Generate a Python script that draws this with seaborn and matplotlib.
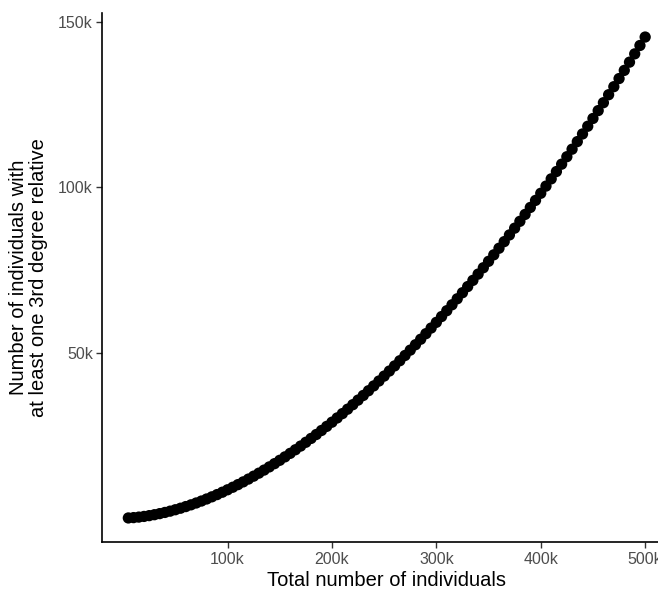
import matplotlib
matplotlib.use("Agg")
import matplotlib.pyplot as plt
import seaborn as sns
import pandas as pd

total_individuals = [
    5000, 10000, 15000, 20000, 25000, 30000, 35000, 40000, 45000, 50000,
    55000, 60000, 65000, 70000, 75000, 80000, 85000, 90000, 95000, 100000,
    105000, 110000, 115000, 120000, 125000, 130000, 135000, 140000, 145000, 150000,
    155000, 160000, 165000, 170000, 175000, 180000, 185000, 190000, 195000, 200000,
    205000, 210000, 215000, 220000, 225000, 230000, 235000, 240000, 245000, 250000,
    255000, 260000, 265000, 270000, 275000, 280000, 285000, 290000, 295000, 300000,
    305000, 310000, 315000, 320000, 325000, 330000, 335000, 340000, 345000, 350000,
    355000, 360000, 365000, 370000, 375000, 380000, 385000, 390000, 395000, 400000,
    405000, 410000, 415000, 420000, 425000, 430000, 435000, 440000, 445000, 450000,
    455000, 460000, 465000, 470000, 475000, 480000, 485000, 490000, 495000, 500000,
]

with_3rd_degree_relative = [
    44, 149, 304, 504, 747, 1029, 1350, 1707, 2101, 2528,
    2990, 3485, 4012, 4571, 5162, 5782, 6434, 7114, 7825, 8564,
    9332, 10128, 10952, 11804, 12683, 13590, 14523, 15483, 16470, 17482,
    18521, 19585, 20675, 21790, 22931, 24097, 25287, 26502, 27742, 29006,
    30294, 31607, 32943, 34304, 35688, 37095, 38525, 39980, 41457, 42959,
    44482, 46029, 47598, 49190, 50806, 52441, 54101, 55782, 57487, 59211,
    60960, 62730, 64520, 66335, 68169, 70027, 71904, 73803, 75724, 77665,
    79630, 81616, 83620, 85647, 87693, 89763, 91852, 93961, 96093, 98243,
    100414, 102608, 104820, 107051, 109304, 111579, 113873, 116186, 118518, 120872,
    123246, 125638, 128054, 130484, 132939, 135412, 137904, 140416, 142948, 145498,
]

x_ticks = [100000, 200000, 300000, 400000, 500000]
x_tick_labels = ["100k", "200k", "300k", "400k", "500k"]
y_ticks = [50000, 100000, 150000]
y_tick_labels = ["50k", "100k", "150k"]

df = pd.DataFrame({"total": total_individuals, "relatives": with_3rd_degree_relative})

sns.set_theme(style="white")
plt.rcParams["font.family"] = ["Liberation Sans", "DejaVu Sans"]

fig = plt.figure(figsize=(6.58, 5.92), dpi=100)
W, H = 658, 592
left_px, right_px, bottom_px, top_px = 102.5, 671, 542, 13
ax = fig.add_axes([left_px / W, (H - bottom_px) / H,
                   (right_px - left_px) / W, (bottom_px - top_px) / H])

sns.scatterplot(data=df, x="total", y="relatives", ax=ax, s=66,
                color="black", edgecolor="none", linewidth=0)

xmin, xmax = min(total_individuals), max(total_individuals)
ymin, ymax = min(with_3rd_degree_relative), max(with_3rd_degree_relative)
xpad = 0.05 * (xmax - xmin)
ypad = 0.05 * (ymax - ymin)
ax.set_xlim(xmin - xpad, xmax + xpad)
ax.set_ylim(ymin - ypad, ymax + ypad)

ax.set_xticks(x_ticks)
ax.set_xticklabels(x_tick_labels)
ax.set_yticks(y_ticks)
ax.set_yticklabels(y_tick_labels)

ax.tick_params(axis="both", which="major", length=4, width=1.0, color="#333333",
               labelcolor="#4D4D4D", labelsize=11.5, pad=3, bottom=True, left=True)

for side in ["top", "right"]:
    ax.spines[side].set_visible(False)
for side in ["left", "bottom"]:
    ax.spines[side].set_color("black")
    ax.spines[side].set_linewidth(1.2)

ax.set_xlabel("Total number of individuals", fontsize=14.5, color="black", labelpad=3)
ax.set_ylabel("Number of individuals with\nat least one 3rd degree relative",
              fontsize=14.5, color="black", labelpad=7, linespacing=1.12)
ax.grid(False)

fig.savefig("out.png", dpi=100)
